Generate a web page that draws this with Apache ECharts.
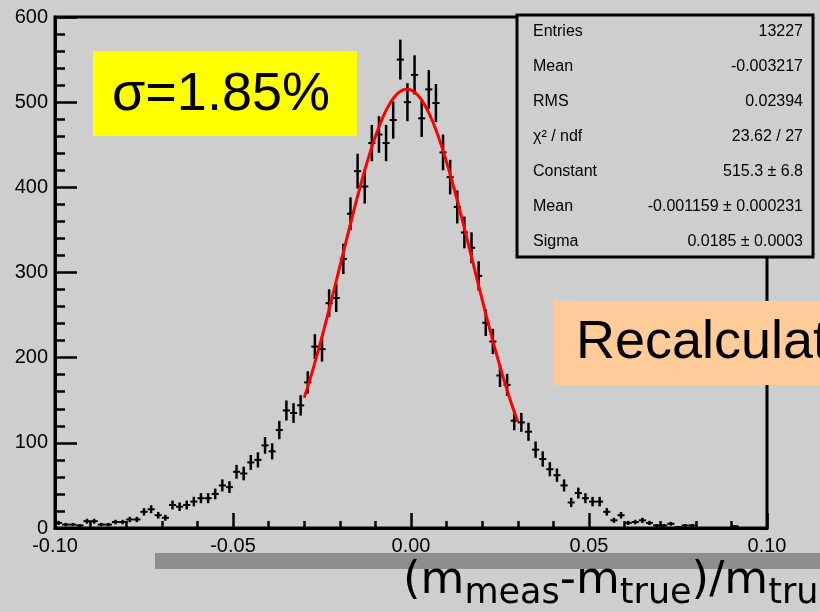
<!DOCTYPE html>
<html>
<head>
<meta charset="utf-8">
<script src="https://cdn.jsdelivr.net/npm/echarts@6/dist/echarts.min.js"></script>
<style>
  html, body { margin: 0; padding: 0; background: #cecece; }
  #chart { width: 820px; height: 612px; }
</style>
</head>
<body>
<div id="chart"></div>
<script>
// Histogram of (m_meas - m_true)/m_true, 100 bins from -0.10 to 0.10
const X_MIN = -0.1;
const X_MAX = 0.1;
const BIN_WIDTH = 0.002;
const COUNTS = [
  6, 4, 4, 3, 8, 8, 4, 4, 7, 7,
  10, 10, 19, 22, 15, 12, 27, 25, 27, 31,
  35, 35, 40, 50, 48, 66, 64, 77, 80, 97,
  90, 115, 138, 135, 144, 171, 213, 210, 264, 270,
  316, 369, 419, 401, 452, 462, 452, 479, 550, 500,
  532, 481, 515, 499, 441, 412, 377, 347, 329, 296,
  241, 219, 179, 168, 126, 124, 113, 92, 81, 69,
  62, 50, 30, 41, 35, 31, 31, 19, 9, 15,
  6, 7, 9, 6, 3, 3, 5, 1, 3, 3,
  0, 0, 0, 0, 0, 2, 0, 0, 0, 0
];

// Gaussian fit result (as reported in the statistics box)
const FIT_CONSTANT = 515.3;
const FIT_MEAN = -0.001159;
const FIT_SIGMA = 0.0185;
const FIT_RANGE = [-0.03, 0.03];

// Statistics box rows
const STAT_LABELS = ['Entries', 'Mean', 'RMS', 'χ² / ndf', 'Constant', 'Mean', 'Sigma'];
const STAT_VALUES = ['13227', '-0.003217', '0.02394', '23.62 / 27', '515.3 ± 6.8', '-0.001159 ± 0.000231', '0.0185 ± 0.0003'];

const Y_TICKS = { min: 0, max: 600, interval: 100 };
const X_TICKS = { min: X_MIN, max: X_MAX, interval: 0.05 };

const BG = '#cecece';
const FONT = '"Liberation Sans", Arial, sans-serif';

const histData = COUNTS.map((c, i) => [X_MIN + BIN_WIDTH * (i + 0.5), c]);

const fitData = [];
const FIT_STEPS = 150;
for (let k = 0; k <= FIT_STEPS; k++) {
  const x = FIT_RANGE[0] + (FIT_RANGE[1] - FIT_RANGE[0]) * k / FIT_STEPS;
  const z = (x - FIT_MEAN) / FIT_SIGMA;
  fitData.push([x, FIT_CONSTANT * Math.exp(-0.5 * z * z)]);
}

function renderErrorBar(params, api) {
  const x = api.value(0);
  const n = api.value(1);
  const err = Math.sqrt(n);
  const l = api.coord([x - BIN_WIDTH / 2, n]);
  const r = api.coord([x + BIN_WIDTH / 2, n]);
  const t = api.coord([x, n + err]);
  const b = api.coord([x, n - err]);
  return {
    type: 'group',
    children: [
      { type: 'line', shape: { x1: l[0], y1: l[1], x2: r[0], y2: r[1] }, style: { stroke: '#000', lineWidth: 2 } },
      { type: 'line', shape: { x1: t[0], y1: t[1], x2: b[0], y2: b[1] }, style: { stroke: '#000', lineWidth: 2.5 } }
    ]
  };
}

// statistics box
const STAT_BOX = { x: 517, y: 15, w: 296, h: 242 };
const statElements = [{
  type: 'rect',
  shape: { x: STAT_BOX.x, y: STAT_BOX.y, width: STAT_BOX.w, height: STAT_BOX.h },
  style: { fill: BG, stroke: '#000', lineWidth: 3 }
}];
STAT_LABELS.forEach((lab, i) => {
  const cy = 32 + i * 35;
  statElements.push({
    type: 'text', x: 533, y: cy,
    style: { text: lab, font: '16px ' + FONT, fill: '#000', align: 'left', verticalAlign: 'middle' }
  });
  statElements.push({
    type: 'text', x: 803, y: cy,
    style: { text: STAT_VALUES[i], font: '16px ' + FONT, fill: '#000', align: 'right', verticalAlign: 'middle' }
  });
});

const chart = echarts.init(document.getElementById('chart'), null, { renderer: 'canvas' });
chart.setOption({
  backgroundColor: BG,
  animation: false,
  grid: {
    left: 55, right: 53, top: 17, bottom: 84,
    show: true, borderColor: '#000', borderWidth: 3, backgroundColor: 'transparent'
  },
  xAxis: {
    type: 'value',
    min: X_TICKS.min, max: X_TICKS.max, interval: X_TICKS.interval,
    axisLine: { show: true, onZero: false, lineStyle: { color: '#000', width: 3 } },
    axisTick: { show: true, inside: true, length: 15, lineStyle: { color: '#000', width: 2.5 } },
    minorTick: { show: true, splitNumber: 5, length: 7, lineStyle: { color: '#000', width: 2.5 } },
    splitLine: { show: false },
    axisLabel: {
      margin: 8, color: '#000', fontSize: 20, fontFamily: FONT,
      formatter: v => (Math.abs(v) < 1e-9 ? '0.00' : v.toFixed(2))
    }
  },
  yAxis: {
    type: 'value',
    min: Y_TICKS.min, max: Y_TICKS.max, interval: Y_TICKS.interval,
    axisLine: { show: true, onZero: false, lineStyle: { color: '#000', width: 3 } },
    axisTick: { show: true, inside: true, length: 22, lineStyle: { color: '#000', width: 2.5 } },
    minorTick: { show: true, splitNumber: 5, length: 10, lineStyle: { color: '#000', width: 2.5 } },
    splitLine: { show: false },
    axisLabel: { margin: 7, color: '#000', fontSize: 20, fontFamily: FONT }
  },
  series: [
    {
      type: 'custom',
      name: 'histogram',
      renderItem: renderErrorBar,
      data: histData,
      z: 3
    },
    {
      type: 'line',
      name: 'gaus fit',
      data: fitData,
      showSymbol: false,
      smooth: false,
      lineStyle: { color: '#ff0000', width: 3 },
      z: 4
    }
  ],
  graphic: [
    ...statElements,
    // resolution annotation
    { type: 'rect', shape: { x: 93, y: 51, width: 264, height: 85 }, style: { fill: '#ffff00' } },
    { type: 'text', x: 112, y: 95,
      style: { text: 'σ=1.85%', font: '54px ' + FONT, fill: '#000', align: 'left', verticalAlign: 'middle' } },
    // "Recalculated" tag
    { type: 'rect', shape: { x: 554, y: 301, width: 270, height: 84 }, style: { fill: '#ffcc99' } },
    { type: 'text', x: 576, y: 343,
      style: { text: 'Recalculated', font: '54px ' + FONT, fill: '#000', align: 'left', verticalAlign: 'middle' } },
    // axis title band
    { type: 'rect', shape: { x: 155, y: 553, width: 670, height: 16 }, style: { fill: '#8e8e8e' } },
    { type: 'text', x: 403, y: 555,
      style: {
        text: '{b|(m}{s|meas}{b|-m}{s|true}{b|)/m}{s|true}',
        align: 'left', verticalAlign: 'top',
        rich: {
          b: { font: '45px "DejaVu Sans", sans-serif', fill: '#000', lineHeight: 52, height: 52, verticalAlign: 'top' },
          s: { font: '35px "DejaVu Sans", sans-serif', fill: '#000', lineHeight: 78, height: 78, verticalAlign: 'bottom' }
        }
      }
    }
  ]
});
</script>
</body>
</html>
